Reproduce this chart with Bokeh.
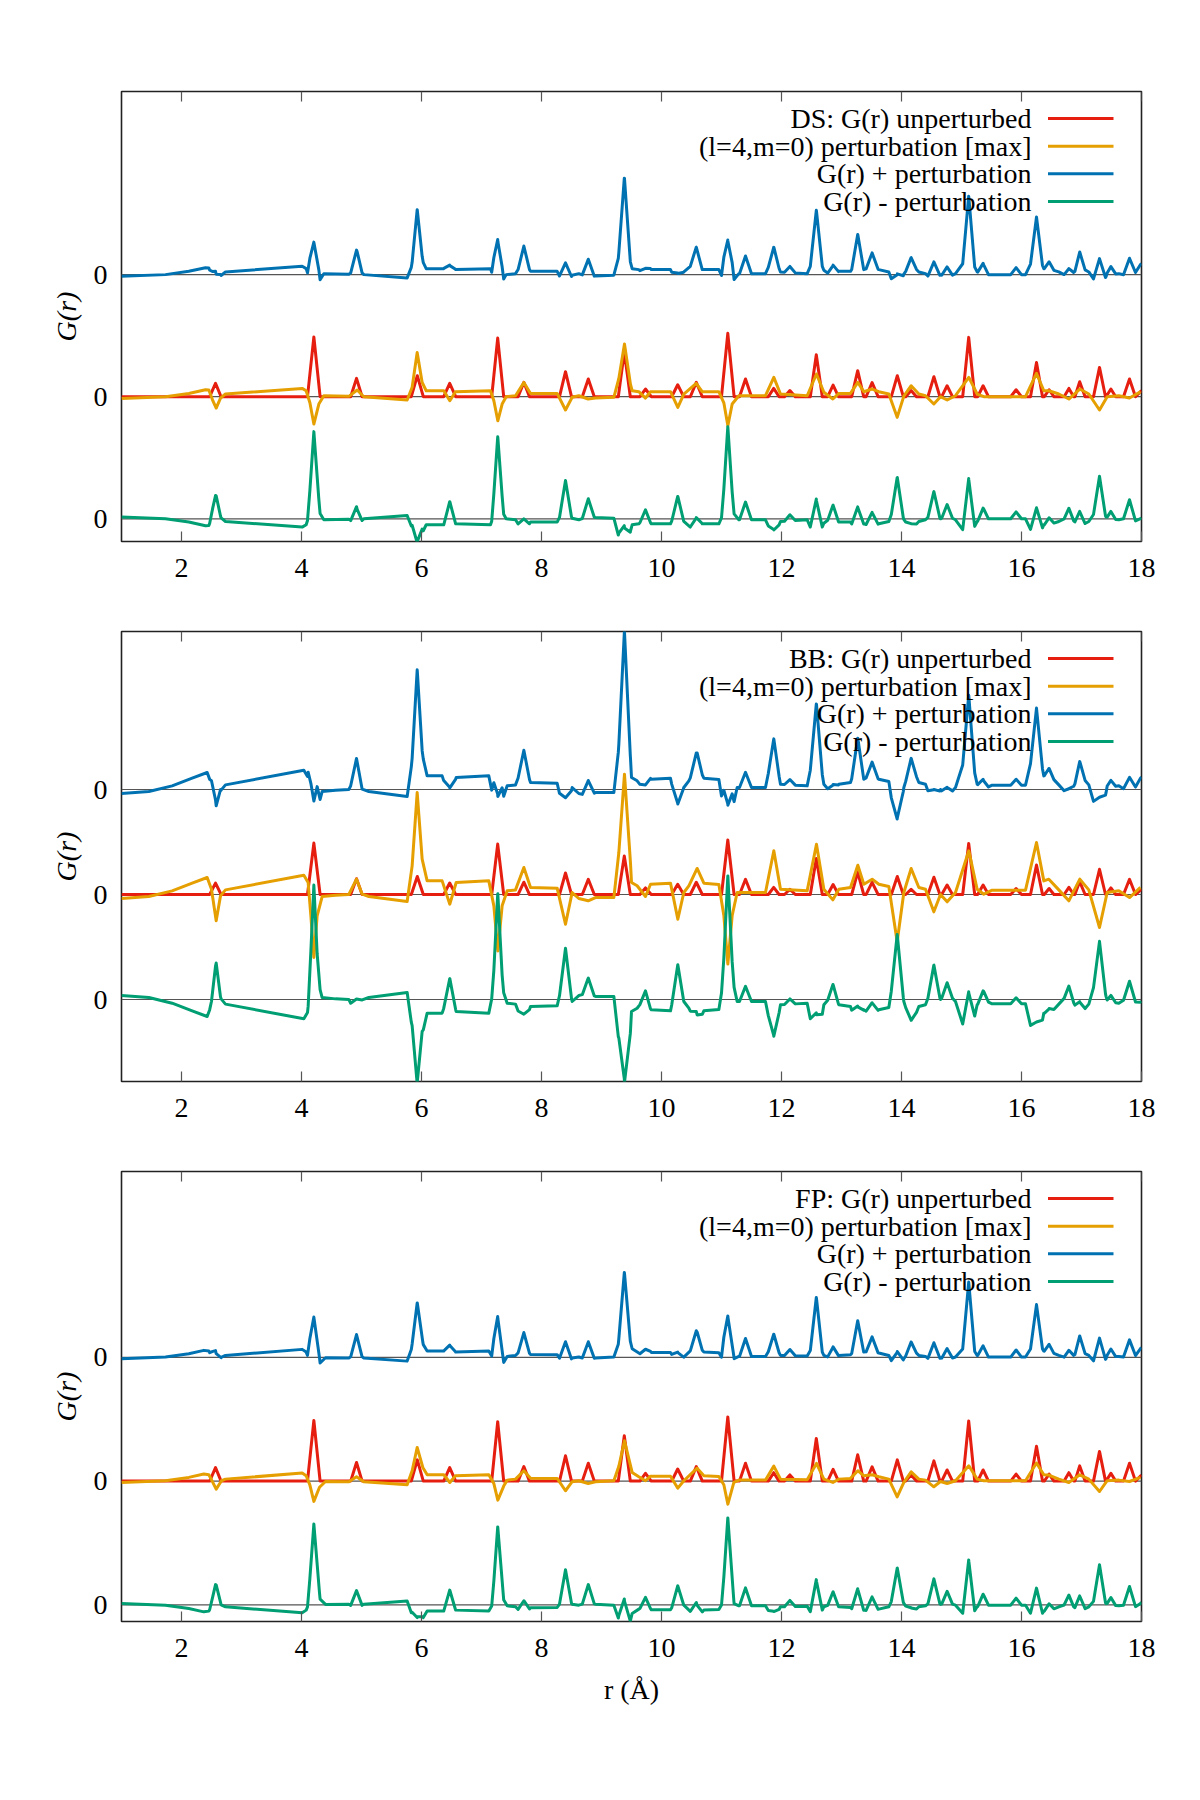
import numpy as np
from bokeh.plotting import figure
from bokeh.models import FixedTicker, Span, Range1d, ColumnDataSource
from bokeh.layouts import column
from bokeh.embed import file_html
from bokeh.resources import INLINE
from bokeh.core.properties import value

# ---------------- data ----------------
# G(r) unperturbed (same in the three panels), vertices (r, G)
g_pts = [
    (1.0, 0), (2.47, 0), (2.567, 0.109), (2.66, 0), (4.1, 0), (4.206, 0.49), (4.31, 0),
    (4.82, 0), (4.917, 0.15), (5.01, 0), (5.83, 0), (5.93, 0.172), (6.03, 0),
    (6.37, 0), (6.47, 0.109), (6.57, 0), (7.17, 0), (7.27, 0.48), (7.37, 0),
    (7.61, 0), (7.706, 0.117), (7.8, 0), (8.3, 0), (8.40, 0.205), (8.5, 0),
    (8.68, 0), (8.78, 0.145), (8.88, 0), (9.28, 0), (9.38, 0.367), (9.48, 0),
    (9.64, 0), (9.733, 0.063), (9.83, 0), (10.17, 0), (10.27, 0.098), (10.37, 0),
    (10.48, 0), (10.58, 0.117), (10.68, 0), (11.0, 0), (11.105, 0.519), (11.21, 0),
    (11.3, 0), (11.4, 0.145), (11.5, 0), (11.78, 0), (11.87, 0.068), (11.96, 0),
    (12.05, 0), (12.14, 0.05), (12.23, 0), (12.48, 0), (12.58, 0.344), (12.68, 0),
    (12.77, 0), (12.86, 0.095), (12.95, 0), (13.17, 0), (13.27, 0.213), (13.37, 0),
    (13.41, 0), (13.51, 0.115), (13.61, 0), (13.83, 0), (13.93, 0.172), (14.03, 0),
    (14.07, 0), (14.16, 0.05), (14.25, 0), (14.44, 0), (14.54, 0.164), (14.64, 0),
    (14.67, 0), (14.76, 0.09), (14.85, 0), (15.02, 0), (15.12, 0.486), (15.22, 0),
    (15.27, 0), (15.36, 0.09), (15.45, 0), (15.82, 0), (15.91, 0.057), (16.0, 0),
    (16.15, 0), (16.25, 0.281), (16.35, 0), (16.38, 0), (16.46, 0.057), (16.54, 0),
    (16.71, 0), (16.79, 0.068), (16.87, 0), (16.89, 0), (16.97, 0.123), (17.06, 0),
    (17.2, 0), (17.3, 0.24), (17.4, 0), (17.41, 0), (17.49, 0.063), (17.57, 0),
    (17.7, 0), (17.8, 0.145), (17.9, 0), (18.0, 0.05),
]

# (l=4,m=0) perturbation [max], vertices (r, P) for each panel
ds_p_pts = [
    (1.0, -0.014), (1.733, 0.0), (2.122, 0.027), (2.4, 0.057), (2.456, 0.055),
    (2.522, -0.033), (2.578, -0.093), (2.65, -0.011), (2.733, 0.022), (4.011, 0.068),
    (4.078, 0.049), (4.14, -0.05), (4.206, -0.224), (4.289, -0.06), (4.372, 0.008),
    (4.789, 0.003), (4.928, 0.055), (5.039, 0.0), (5.761, -0.027), (5.844, 0.077),
    (5.928, 0.363), (6.011, 0.117), (6.078, 0.049), (6.372, 0.049), (6.472, -0.033),
    (6.567, 0.041), (7.15, 0.049), (7.206, -0.033), (7.272, -0.197), (7.344, -0.06),
    (7.411, 0.0), (7.567, 0.008), (7.706, 0.117), (7.817, 0.027), (8.261, 0.027),
    (8.4, -0.109), (8.511, -0.005), (8.622, 0.008), (8.778, -0.019), (8.9, -0.011),
    (9.206, -0.005), (9.289, 0.15), (9.383, 0.432), (9.483, 0.1), (9.511, 0.049),
    (9.622, 0.041), (9.733, -0.011), (9.817, 0.041), (10.15, 0.041), (10.272, -0.087),
    (10.372, 0.022), (10.578, 0.109), (10.678, 0.041), (10.956, 0.041), (11.039, -0.05),
    (11.106, -0.238), (11.178, -0.06), (11.289, 0.008), (11.733, 0.008), (11.872, 0.158),
    (11.983, 0.022), (12.428, 0.008), (12.583, 0.186), (12.706, 0.036), (12.856, -0.019),
    (12.956, 0.027), (13.15, 0.027), (13.272, 0.117), (13.372, 0.041), (13.511, 0.063),
    (13.622, 0.041), (13.789, 0.022), (13.928, -0.169), (14.039, 0.005), (14.161, 0.09),
    (14.289, 0.022), (14.4, 0.008), (14.539, -0.06), (14.65, 0.0), (14.761, -0.027),
    (14.9, 0.008), (15.122, 0.158), (15.261, 0.022), (15.372, 0.0), (16.067, 0.0),
    (16.25, 0.191), (16.372, 0.049), (16.456, 0.049), (16.622, 0.022), (16.789, -0.019),
    (16.972, 0.063), (17.122, 0.022), (17.3, -0.109), (17.428, 0.0), (17.622, 0.008),
    (17.8, -0.011), (17.983, 0.041),
]

bb_p_pts = [
    (1.0, -0.038), (1.456, -0.019), (1.844, 0.035), (2.178, 0.108), (2.428, 0.162),
    (2.5, 0.05), (2.578, -0.251), (2.65, -0.013), (2.733, 0.044), (4.039, 0.184),
    (4.111, 0.114), (4.156, -0.2), (4.206, -0.6), (4.261, -0.203), (4.344, -0.019),
    (4.567, -0.006), (4.789, 0.0), (4.917, 0.146), (5.011, 0.003), (5.122, -0.019),
    (5.761, -0.067), (5.844, 0.273), (5.928, 0.971), (6.011, 0.337), (6.094, 0.13),
    (6.344, 0.13), (6.472, -0.092), (6.578, 0.114), (7.122, 0.13), (7.206, -0.108),
    (7.272, -0.537), (7.344, -0.108), (7.428, 0.035), (7.567, 0.044), (7.706, 0.257),
    (7.817, 0.067), (8.261, 0.06), (8.4, -0.283), (8.511, 0.019), (8.622, -0.038),
    (8.778, -0.06), (8.9, -0.029), (9.206, -0.029), (9.289, 0.4), (9.383, 1.146),
    (9.483, 0.3), (9.5, 0.114), (9.594, 0.083), (9.733, -0.019), (9.817, 0.098),
    (10.15, 0.108), (10.272, -0.235), (10.372, 0.019), (10.456, 0.083), (10.594, 0.248),
    (10.706, 0.108), (10.956, 0.095), (11.039, -0.2), (11.106, -0.663), (11.178, -0.2),
    (11.261, 0.019), (11.733, 0.019), (11.872, 0.416), (11.983, 0.05), (12.428, 0.035),
    (12.583, 0.479), (12.706, 0.05), (12.856, -0.051), (12.956, 0.05), (13.15, 0.067),
    (13.272, 0.279), (13.372, 0.098), (13.511, 0.146), (13.622, 0.098), (13.789, 0.076),
    (13.928, -0.45), (14.039, 0.019), (14.161, 0.248), (14.289, 0.067), (14.4, 0.05),
    (14.539, -0.165), (14.65, 0.0), (14.761, -0.07), (14.9, 0.019), (15.122, 0.416),
    (15.261, 0.05), (15.372, 0.003), (15.511, 0.041), (16.067, 0.041), (16.25, 0.495),
    (16.372, 0.13), (16.456, 0.146), (16.622, 0.044), (16.789, -0.06), (16.972, 0.146),
    (17.122, 0.044), (17.3, -0.314), (17.428, 0.019), (17.622, 0.035), (17.8, -0.029),
    (17.983, 0.067),
]

fp_p_pts = [
    (1.0, -0.011), (1.733, 0.003), (2.122, 0.03), (2.372, 0.057), (2.456, 0.051),
    (2.522, -0.01), (2.578, -0.065), (2.667, 0.003), (2.733, 0.016), (4.011, 0.065),
    (4.078, 0.043), (4.139, -0.03), (4.206, -0.164), (4.3, -0.05), (4.4, -0.003),
    (4.789, -0.005), (4.917, 0.035), (5.039, -0.005), (5.761, -0.03), (5.844, 0.084),
    (5.928, 0.272), (6.022, 0.11), (6.094, 0.051), (6.372, 0.051), (6.472, -0.011),
    (6.567, 0.043), (7.122, 0.051), (7.206, -0.02), (7.272, -0.154), (7.372, -0.038),
    (7.428, 0.008), (7.567, 0.016), (7.706, 0.084), (7.817, 0.024), (8.261, 0.022),
    (8.4, -0.078), (8.511, -0.005), (8.622, 0.003), (8.778, -0.019), (8.9, -0.005),
    (9.206, 0.003), (9.289, 0.12), (9.383, 0.326), (9.511, 0.07), (9.622, 0.035),
    (9.733, 0.003), (9.817, 0.04), (10.15, 0.04), (10.272, -0.057), (10.372, 0.003),
    (10.594, 0.105), (10.706, 0.043), (10.956, 0.038), (11.039, -0.03), (11.106, -0.186),
    (11.206, -0.011), (11.289, 0.008), (11.733, 0.008), (11.872, 0.121), (11.983, 0.016),
    (12.428, 0.011), (12.583, 0.143), (12.706, 0.016), (12.856, -0.011), (12.956, 0.016),
    (13.15, 0.022), (13.272, 0.084), (13.372, 0.043), (13.511, 0.051), (13.622, 0.035),
    (13.789, 0.016), (13.928, -0.127), (14.039, -0.011), (14.161, 0.075), (14.289, 0.016),
    (14.4, 0.008), (14.539, -0.046), (14.65, -0.003), (14.761, -0.019), (14.9, 0.003),
    (15.122, 0.124), (15.261, 0.016), (15.372, 0.003), (16.067, 0.003), (16.25, 0.146),
    (16.372, 0.051), (16.456, 0.049), (16.622, 0.016), (16.789, -0.011), (16.972, 0.051),
    (17.122, 0.016), (17.3, -0.084), (17.428, 0.003), (17.622, 0.008), (17.8, -0.003),
    (17.983, 0.03),
]

panel_names = ["DS", "BB", "FP"]
panel_ymin = [-0.186, -0.781, -0.135]
panel_ymax = [3.5, 3.505, 3.503]
x_ticks = [2, 4, 6, 8, 10, 12, 14, 16, 18]
trace_offsets = [0.0, 1.0, 2.0]   # G-P, G (and P), G+P

# ---------------- styles ----------------
RED, ORANGE, BLUE, GREEN = "#e51e10", "#e69f00", "#0072b2", "#009e73"
FONT = "Liberation Serif"
FS = "28px"
LW = 3.0
FRAME_H = 450.0


def make_panel(i, name, p_pts, ymin, ymax, last):
    top_b = 91 if i == 0 else 45
    bot_b = 179 if last else 45
    p = figure(width=1200, height=top_b + int(FRAME_H) + bot_b,
               x_range=Range1d(1, 18), y_range=Range1d(ymin, ymax),
               output_backend="svg", toolbar_location=None,
               min_border_left=121, min_border_right=59,
               min_border_top=top_b, min_border_bottom=bot_b)
    p.xgrid.visible = False
    p.ygrid.visible = False
    p.outline_line_color = "#222222"
    p.outline_line_width = 1.6
    p.background_fill_color = "white"
    p.border_fill_color = "white"

    # data
    gr = np.array([a for a, b in g_pts]); gv = np.array([b for a, b in g_pts])
    pr = np.array([a for a, b in p_pts]); pv = np.array([b for a, b in p_pts])
    xr = np.union1d(gr, pr)
    gi = np.interp(xr, gr, gv)
    pi = np.interp(xr, pr, pv)

    for v in trace_offsets:
        p.add_layout(Span(location=v, dimension="width", line_color="#555555",
                          line_width=1.2, level="underlay"))

    # top ticks (inward), drawn as short segments
    per_px = (ymax - ymin) / FRAME_H
    p.segment(x0=x_ticks, x1=x_ticks, y0=[ymax] * len(x_ticks),
              y1=[ymax - 10 * per_px] * len(x_ticks), line_color="#555555", line_width=1.2)

    p.line(gr, gv + trace_offsets[1], line_color=RED, line_width=LW, line_join="round")
    p.line(pr, pv + trace_offsets[1], line_color=ORANGE, line_width=LW, line_join="round")
    p.line(xr, gi + pi + trace_offsets[2], line_color=BLUE, line_width=LW, line_join="round")
    p.line(xr, gi - pi + trace_offsets[0], line_color=GREEN, line_width=LW, line_join="round")

    # axes
    xa = p.xaxis[0]
    xa.ticker = FixedTicker(ticks=x_ticks)
    xa.major_tick_in = 10
    xa.major_tick_out = 0
    xa.minor_tick_in = 0
    xa.minor_tick_out = 0
    xa.axis_line_color = None
    xa.major_tick_line_color = "#555555"
    xa.major_tick_line_width = 1.2
    xa.major_label_text_font = FONT
    xa.major_label_text_font_size = FS
    xa.major_label_text_color = "black"
    xa.major_label_standoff = 17
    if last:
        xa.axis_label = "r (Å)"
        xa.axis_label_text_font = FONT
        xa.axis_label_text_font_size = FS
        xa.axis_label_text_font_style = "normal"
        xa.axis_label_text_color = "black"
        xa.axis_label_standoff = 14

    ya = p.yaxis[0]
    ya.ticker = FixedTicker(ticks=trace_offsets)
    ya.major_label_overrides = {0: "0", 1: "0", 2: "0"}
    ya.major_tick_in = 0
    ya.major_tick_out = 0
    ya.minor_tick_in = 0
    ya.minor_tick_out = 0
    ya.axis_line_color = None
    ya.major_label_text_font = FONT
    ya.major_label_text_font_size = FS
    ya.major_label_text_color = "black"
    ya.major_label_standoff = 14
    ya.axis_label = "G(r)"
    ya.axis_label_text_font = FONT
    ya.axis_label_text_font_size = FS
    ya.axis_label_text_font_style = "italic"
    ya.axis_label_text_color = "black"
    ya.axis_label_standoff = 9

    # legend (text right-aligned, sample line on its right)
    labels = [f"{name}: G(r) unperturbed", "(l=4,m=0) perturbation [max]",
              "G(r) + perturbation", "G(r) - perturbation"]
    colors = [RED, ORANGE, BLUE, GREEN]
    ys = [ymax - (27.0 + 27.67 * k) * per_px for k in range(4)]
    xt = 1 + (1031 - 121) / 60.0
    xs0 = 1 + (1047.5 - 121) / 60.0
    xs1 = 1 + (1113 - 121) / 60.0
    p.segment(x0=[xs0] * 4, x1=[xs1] * 4, y0=ys, y1=ys, line_color=colors, line_width=3)
    src = ColumnDataSource(dict(x=[xt] * 4, y=ys, t=labels))
    p.text(x="x", y="y", text="t", source=src, text_align="right", text_baseline="middle",
           text_font=value(FONT), text_font_size=FS, text_color="black")
    return p


all_p = [ds_p_pts, bb_p_pts, fp_p_pts]
figs = [make_panel(i, panel_names[i], all_p[i], panel_ymin[i], panel_ymax[i], i == 2)
        for i in range(3)]
layout = column(*figs, spacing=0)
open("out.html", "w").write(file_html(layout, INLINE))
